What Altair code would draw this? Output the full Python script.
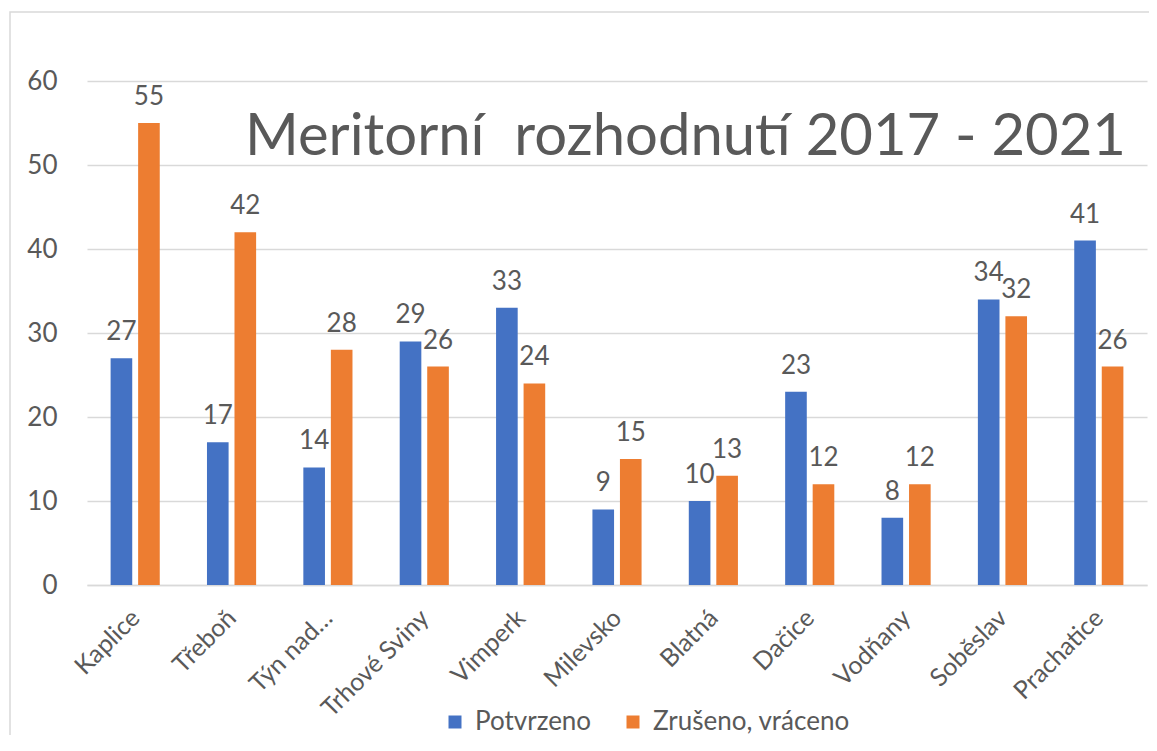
import altair as alt
import pandas as pd

categories = ["Kaplice", "Třeboň", "Týn nad…", "Trhové Sviny", "Vimperk", "Milevsko",
              "Blatná", "Dačice", "Vodňany", "Soběslav", "Prachatice"]
potvrzeno = [27, 17, 14, 29, 33, 9, 10, 23, 8, 34, 41]
zruseno = [55, 42, 28, 26, 24, 15, 13, 12, 12, 32, 26]
series = ["Potvrzeno", "Zrušeno, vráceno"]
colors = ["#4472C4", "#ED7D31"]
y_ticks = [0, 10, 20, 30, 40, 50, 60]
title_text = "Meritorní\u00a0 rozhodnutí 2017 - 2021"

rows = []
for c, p, z in zip(categories, potvrzeno, zruseno):
    rows.append({"mesto": c, "serie": series[0], "pocet": p})
    rows.append({"mesto": c, "serie": series[1], "pocet": z})
df = pd.DataFrame(rows)

FONT = "Lato"
GRAY = "#595959"
GRID = "#d9d9d9"
W, H = 1060, 504

x = alt.X("mesto:N", sort=categories,
          scale=alt.Scale(paddingInner=0.49, paddingOuter=0.245),
          axis=alt.Axis(title=None, labelAngle=-45, labelFontSize=25, labelColor=GRAY,
                        labelFont=FONT, ticks=False, domainColor=GRID, domainWidth=1.5,
                        labelPadding=20, labelOffset=-8, labelLimit=0, grid=False))
xo = alt.XOffset("serie:N", sort=series,
                 scale=alt.Scale(paddingInner=0.214, paddingOuter=0))
y = alt.Y("pocet:Q", scale=alt.Scale(domain=[0, 60], nice=False),
          axis=alt.Axis(title=None, values=y_ticks, labelFontSize=26, labelColor=GRAY,
                        labelFont=FONT, ticks=False, domain=False, gridColor=GRID,
                        gridWidth=1.5, labelPadding=30))
color = alt.Color("serie:N", sort=series,
                  scale=alt.Scale(domain=series, range=colors),
                  legend=alt.Legend(title=None, orient="none", legendX=355, legendY=628,
                                    direction="horizontal", symbolType="square",
                                    symbolSize=169, symbolStrokeWidth=0,
                                    labelFontSize=26, labelFont=FONT, labelColor=GRAY,
                                    labelLimit=0, labelOffset=7, columnPadding=28))

base = alt.Chart(df)
bars = base.mark_bar().encode(x=x, xOffset=xo, y=y, color=color)
labels = base.mark_text(font=FONT, fontSize=26, color=GRAY, baseline="alphabetic", dy=-18).encode(
    x=x, xOffset=xo, y=y, text=alt.Text("pocet:Q"))

one = pd.DataFrame({"t": [title_text]})
frame = alt.Chart(one).mark_rect(fill="transparent", stroke=GRID, strokeWidth=1.5).encode(
    x=alt.value(-77), x2=alt.value(W + 30), y=alt.value(-69), y2=alt.value(H + 300))
title = alt.Chart(one).mark_text(font=FONT, fontSize=58, color=GRAY, align="left",
                                 baseline="alphabetic").encode(
    x=alt.value(158), y=alt.value(74), text="t:N")

chart = alt.layer(frame, bars, labels, title).properties(
    width=W, height=H,
    autosize=alt.AutoSizeParams(type="none"),
    padding={"left": 79, "top": 73, "right": 2, "bottom": 150},
).configure_view(stroke=None)

chart.save("out.html", embed_options={"renderer": "svg", "actions": False})
